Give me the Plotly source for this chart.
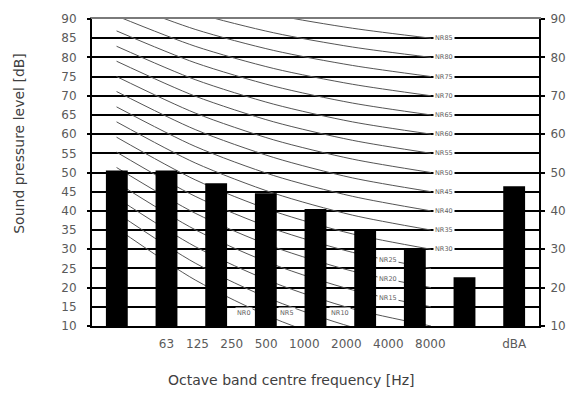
import numpy as np
import plotly.graph_objects as go

# ---- bar data (measured spectrum) ----
bar_slots = [0, 1, 2, 3, 4, 5, 6, 7, 8]
bar_levels = [50.5, 50.5, 47.2, 44.6, 40.5, 35.3, 30.0, 22.7, 46.4]
x_tickvals = [1, 8]
x_ticktext = ["63", "dBA"]
mid_freq_labels = ["125", "250", "500", "1000", "2000", "4000", "8000"]

# ---- NR curve family (octave index: 0=63 Hz ... 4=1 kHz) ----
nr_octave = [0, 1, 2, 3, 4]
nr_ratings = [0, 5, 10, 15, 20, 25, 30, 35, 40, 45, 50, 55, 60, 65, 70, 75, 80, 85]
nr_63 = [35.5, 39.5, 43.4, 47.4, 51.3, 55.3, 59.2, 63.2, 67.1, 71.1, 75.0, 79.0, 82.9, 86.9, 90.8, 94.8, 98.7, 102.7]
nr_125 = [22.0, 26.4, 30.7, 35.1, 39.4, 43.8, 48.1, 52.5, 56.8, 61.2, 65.5, 69.9, 74.2, 78.6, 82.9, 87.3, 91.6, 96.0]
nr_250 = [12.0, 16.7, 21.3, 26.0, 30.6, 35.3, 39.9, 44.6, 49.2, 53.9, 58.5, 63.2, 67.8, 72.5, 77.1, 81.8, 86.4, 91.1]
nr_500 = [4.8, 9.7, 14.5, 19.4, 24.3, 29.2, 34.0, 38.9, 43.8, 48.6, 53.5, 58.4, 63.2, 68.1, 73.0, 77.9, 82.7, 87.6]
nr_1000 = [0, 5, 10, 15, 20, 25, 30, 35, 40, 45, 50, 55, 60, 65, 70, 75, 80, 85]

TICK_FONT = dict(family="DejaVu Sans", size=12, color="#5a5a5a")
TITLE_FONT = dict(family="DejaVu Sans", size=14, color="#404040")

fig = go.Figure()

annotations = []
for i, n in enumerate(nr_ratings):
    ys = [nr_63[i], nr_125[i], nr_250[i], nr_500[i], nr_1000[i]]
    fig.add_trace(go.Scatter(
        x=nr_octave, y=ys, mode="lines", xaxis="x", yaxis="y",
        line=dict(color="#555555", width=1, shape="spline", smoothing=0.8),
        hoverinfo="skip", showlegend=False))
    if n >= 30:
        lx, ly, anchor = nr_octave[-1], ys[-1], "left"
    elif n >= 15:
        lx = 3.45
        ly = float(np.interp(lx, nr_octave, ys))
        anchor = "center"
    else:
        lx = float(np.interp(15.0, ys[::-1], nr_octave[::-1])) - 0.08
        ly = 13.5
        anchor = "center"
    annotations.append(dict(
        x=lx, y=ly, xref="x", yref="y", text=f"NR{n}", showarrow=False,
        xanchor=anchor, yanchor="middle", bgcolor="white", borderpad=1,
        xshift=2 if anchor == "left" else 0,
        font=dict(family="DejaVu Sans", size=6.5, color="#606060")))

# empty helper traces so the tick-only axes are drawn
fig.add_trace(go.Scatter(x=[None], y=[None], xaxis="x", yaxis="y3",
                         mode="lines", showlegend=False, hoverinfo="skip"))
fig.add_trace(go.Scatter(x=[None], y=[None], xaxis="x", yaxis="y2",
                         mode="lines", showlegend=False, hoverinfo="skip"))

fig.add_trace(go.Bar(
    x=bar_slots, y=bar_levels, xaxis="x2", yaxis="y",
    marker=dict(color="black", line=dict(width=0)),
    showlegend=False, hoverinfo="skip"))

annotations.append(dict(
    x=4, y=0, xref="x2", yref="paper", xanchor="center", yanchor="top",
    yshift=-9, text=("\u00a0" * 3).join(mid_freq_labels), showarrow=False,
    font=TICK_FONT))
annotations.append(dict(
    x=0.446, y=-0.177, xref="paper", yref="paper", xanchor="center",
    yanchor="middle", text="Octave band centre frequency [Hz]",
    showarrow=False, font=TITLE_FONT))
annotations.append(dict(
    x=-0.163, y=0.594, xref="paper", yref="paper", textangle=-90,
    xanchor="center", yanchor="middle",
    text="Sound pressure level [dB]", showarrow=False, font=TITLE_FONT))

fig.update_layout(
    width=578, height=395,
    margin=dict(l=92, r=31, t=16, b=69),
    paper_bgcolor="white", plot_bgcolor="white",
    bargap=0.56,
    showlegend=False,
    xaxis=dict(range=[-0.3125, 5.375], side="top", showgrid=False,
               zeroline=False, showticklabels=False, ticks="",
               showline=True, linecolor="#7a7a7a", linewidth=1.5),
    xaxis2=dict(range=[-0.5, 8.5], overlaying="x", side="bottom",
                showgrid=False, zeroline=False,
                tickvals=x_tickvals, ticktext=x_ticktext, ticks="",
                tickfont=TICK_FONT, ticklabelstandoff=6,
                showline=True, linecolor="black", linewidth=2),
    yaxis=dict(range=[10, 90], dtick=5, tick0=10, showgrid=True,
               gridcolor="black", gridwidth=2, zeroline=False,
               ticks="", tickfont=TICK_FONT, ticklabelstandoff=11,
               showline=True, linecolor="black", linewidth=2),
    yaxis2=dict(range=[10, 90], dtick=10, tick0=10, overlaying="y",
                side="right", showgrid=False, zeroline=False,
                ticks="outside", ticklen=4, tickcolor="black", tickwidth=1.5,
                tickfont=TICK_FONT, ticklabelstandoff=3,
                showline=True, linecolor="black", linewidth=2),
    yaxis3=dict(range=[10, 90], dtick=10, tick0=10, overlaying="y",
                side="left", showgrid=False, zeroline=False,
                ticks="outside", ticklen=4, tickcolor="black", tickwidth=1.5,
                showticklabels=False, showline=False),
    annotations=annotations,
)

fig.write_html("out.html")
